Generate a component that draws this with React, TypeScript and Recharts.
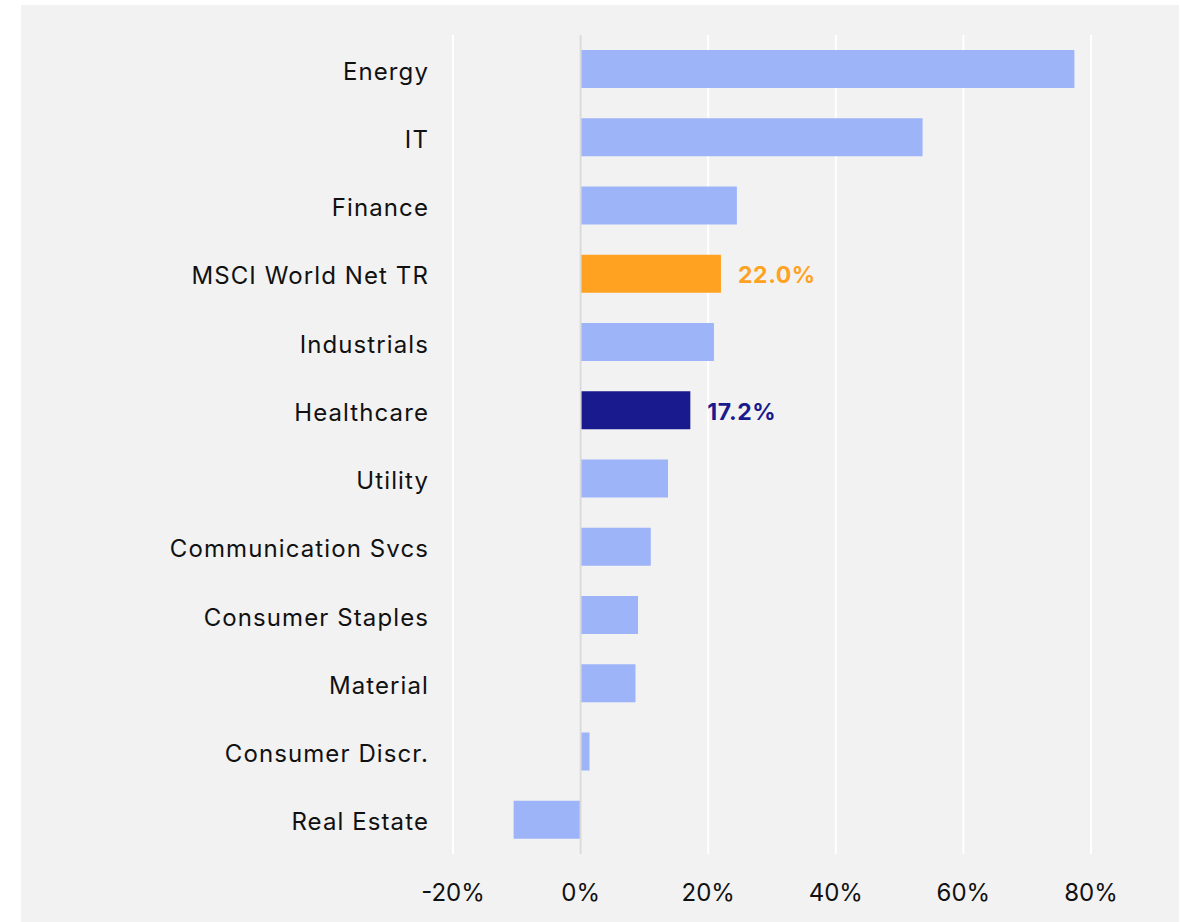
import React from 'react';
import { BarChart, Bar, XAxis, YAxis, CartesianGrid, ReferenceLine, Cell, LabelList } from 'recharts';

const categories = [
  'Energy',
  'IT',
  'Finance',
  'MSCI World Net TR',
  'Industrials',
  'Healthcare',
  'Utility',
  'Communication Svcs',
  'Consumer Staples',
  'Material',
  'Consumer Discr.',
  'Real Estate',
];

const returns = [77.4, 53.6, 24.5, 22.0, 20.9, 17.2, 13.7, 11.0, 9.0, 8.6, 1.4, -10.5];

const xTicks = [-20, 0, 20, 40, 60, 80];

const benchmarkName = 'MSCI World Net TR';
const focusName = 'Healthcare';

const data = categories.map((name, i) => ({ name, value: returns[i] }));

const BASE = '#9db4f9';
const ORANGE = '#ffa222';
const NAVY = '#1a1a8f';
const FONT = 'Inter, "DejaVu Sans", sans-serif';

const colorFor = (name: string) =>
  name === benchmarkName ? ORANGE : name === focusName ? NAVY : BASE;

const ValueLabel = (props: any) => {
  const { x, y, width, height, value, index } = props;
  const name = categories[index];
  if (name !== benchmarkName && name !== focusName) return null;
  return (
    <text
      x={x + width + 17}
      y={y + height / 2}
      dy="0.42em"
      fill={colorFor(name)}
      fontFamily={FONT}
      fontSize={23}
      fontWeight={700}
      letterSpacing={0.6}
      textAnchor="start"
    >
      {`${Number(value).toFixed(1)}%`}
    </text>
  );
};

export default function App() {
  return (
    <div style={{ position: 'absolute', left: 0, top: 0, width: 1181, height: 922, background: '#ffffff' }}>
      <div style={{ position: 'absolute', left: 21, top: 5, width: 1158, height: 917, background: '#f2f2f2' }}>
        <BarChart
          width={1158}
          height={917}
          data={data}
          layout="vertical"
          margin={{ top: 30, right: 88, bottom: 0, left: 0 }}
          barSize={38}
        >
          <CartesianGrid horizontal={false} vertical stroke="#ffffff" strokeWidth={2} />
          <XAxis
            type="number"
            domain={[-20, 80]}
            ticks={xTicks}
            tickFormatter={(v: number) => `${v}%`}
            axisLine={false}
            tickLine={false}
            tickSize={0}
            tickMargin={30}
            height={68}
            tick={{ fontSize: 24, fill: '#111111', fontFamily: FONT }}
          />
          <YAxis
            type="category"
            dataKey="name"
            width={432}
            axisLine={false}
            tickLine={false}
            tickSize={0}
            tickMargin={24}
            interval={0}
            tick={{ fontSize: 24, fill: '#111111', fontFamily: FONT, letterSpacing: 1.1, dy: 2 }}
          />
          <ReferenceLine x={0} stroke="#d9d9d9" strokeWidth={2} />
          <Bar dataKey="value" isAnimationActive={false}>
            {data.map((d) => (
              <Cell key={d.name} fill={colorFor(d.name)} />
            ))}
            <LabelList dataKey="value" content={ValueLabel} />
          </Bar>
        </BarChart>
      </div>
    </div>
  );
}
